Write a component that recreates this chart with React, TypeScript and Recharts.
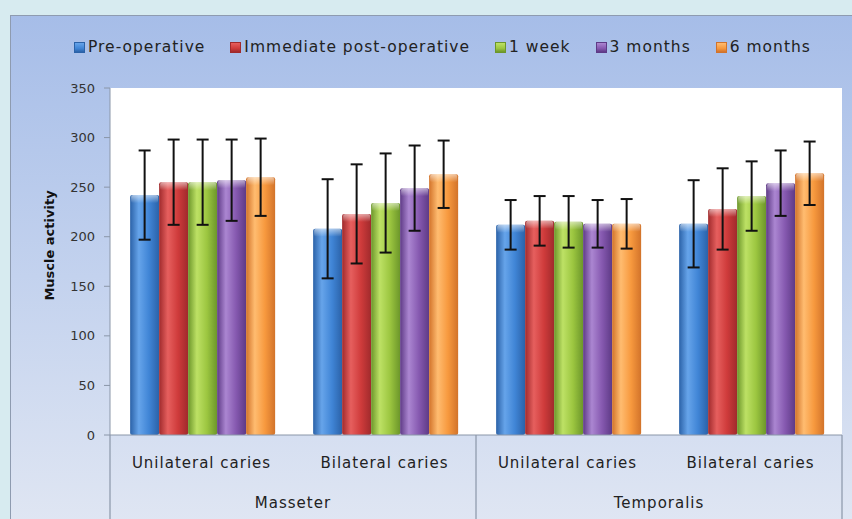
import React from 'react';
import { BarChart, Bar, XAxis, YAxis, CartesianGrid, ErrorBar, Legend } from 'recharts';

const categories = ['Unilateral caries', 'Bilateral caries', 'Unilateral caries', 'Bilateral caries'];
const groups = ['Masseter', 'Masseter', 'Temporalis', 'Temporalis'];

const preOperative = [242, 208, 212, 213];
const immediatePostOperative = [255, 223, 216, 228];
const oneWeek = [255, 234, 215, 241];
const threeMonths = [257, 249, 213, 254];
const sixMonths = [260, 263, 213, 264];

const preOperativeSd = [45, 50, 25, 44];
const immediatePostOperativeSd = [43, 50, 25, 41];
const oneWeekSd = [43, 50, 26, 35];
const threeMonthsSd = [41, 43, 24, 33];
const sixMonthsSd = [39, 34, 25, 32];

const yTicks = [0, 50, 100, 150, 200, 250, 300, 350];

const SERIES = [
  { key: 'pre', name: 'Pre-operative', values: preOperative, sd: preOperativeSd, dark: '#2b62a8', light: '#66a4ea', base: '#4085d6' },
  { key: 'post', name: 'Immediate post-operative', values: immediatePostOperative, sd: immediatePostOperativeSd, dark: '#a02a2c', light: '#e65f5e', base: '#cf3b3b' },
  { key: 'week', name: '1 week', values: oneWeek, sd: oneWeekSd, dark: '#6c962a', light: '#bde165', base: '#9cc640' },
  { key: 'm3', name: '3 months', values: threeMonths, sd: threeMonthsSd, dark: '#5e3a86', light: '#ab86d1', base: '#8659b0' },
  { key: 'm6', name: '6 months', values: sixMonths, sd: sixMonthsSd, dark: '#d2732a', light: '#ffbc70', base: '#f7993e' },
];

const data = categories.map((name, i) => {
  const row: any = { name, group: groups[i] };
  SERIES.forEach(s => {
    row[s.key] = s.values[i];
    row[s.key + 'Sd'] = s.sd[i];
  });
  return row;
});

const FONT = '"DejaVu Sans", Verdana, sans-serif';

const GlossyBar = (props: any) => {
  const { x, y, width, height, fill } = props;
  if (!height || height <= 0) return null;
  const cap = Math.min(8, height);
  return (
    <g>
      <rect x={x} y={y} width={width} height={height} fill={fill} rx={2} />
      <rect x={x + 1} y={y} width={width - 2} height={cap} fill="url(#capShine)" rx={2} />
    </g>
  );
};

const CategoryTick = (props: any) => {
  const { x, y, payload, index } = props;
  const half = payload && payload.offset ? payload.offset : 0;
  const axisHeight = props.height || 84;
  const group = groups[index];
  const firstOfGroup = index === 0 || groups[index - 1] !== group;
  const groupSize = groups.filter(g => g === group).length;
  const last = index === categories.length - 1;
  return (
    <g>
      <text x={x} y={y} dy={33} textAnchor="middle" fill="#222" fontSize={15} letterSpacing={1} fontFamily={FONT}>
        {payload.value}
      </text>
      {firstOfGroup && (
        <>
          <line x1={x - half} x2={x - half} y1={y} y2={y + axisHeight} stroke="#8a96a8" strokeWidth={1.2} />
          <text x={x - half + groupSize * half} y={y} dy={73} textAnchor="middle" fill="#222" fontSize={15} letterSpacing={1} fontFamily={FONT}>
            {group}
          </text>
        </>
      )}
      {last && <line x1={x + half} x2={x + half} y1={y} y2={y + axisHeight} stroke="#8a96a8" strokeWidth={1.2} />}
    </g>
  );
};

const YTitle = (props: any) => {
  const { viewBox } = props;
  const cx = viewBox.x - 1;
  const cy = viewBox.y + viewBox.height / 2 - 16;
  return (
    <text x={cx} y={cy} transform={`rotate(-90, ${cx}, ${cy})`} textAnchor="middle" dominantBaseline="central" fontSize={13} fontWeight="bold" fill="#111" fontFamily={FONT}>
      Muscle activity
    </text>
  );
};

const LegendContent = () => (
  <div style={{ display: 'flex', alignItems: 'center', gap: 25, paddingLeft: 74, height: 22, fontFamily: FONT, fontSize: 15.5, letterSpacing: 1, color: '#222' }}>
    {SERIES.map(s => (
      <span key={s.key} style={{ display: 'flex', alignItems: 'center' }}>
        <span style={{ width: 9, height: 9, marginRight: 3, background: `linear-gradient(180deg, ${s.light}, ${s.base} 60%, ${s.dark})`, border: `1px solid ${s.dark}` }} />
        {s.name}
      </span>
    ))}
  </div>
);

export default function App() {
  return (
    <div style={{ position: 'fixed', left: 0, top: 0, width: 852, height: 519, background: '#d7ebf0', overflow: 'hidden' }}>
      <div style={{ position: 'absolute', left: 10, top: 15, width: 860, height: 520, border: '1px solid #8e9bb0', background: 'linear-gradient(180deg, #a6bde8 0%, #c3d2ee 50%, #e1e7f3 100%)' }} />
      <div style={{ position: 'absolute', left: 0, top: 0 }}>
        <BarChart width={852} height={519} data={data} margin={{ top: 66, right: 10, bottom: 0, left: 50 }} barCategoryGap="11%" barGap={0} style={{ fontFamily: FONT }}>
          <defs>
            {SERIES.map(s => (
              <linearGradient key={s.key} id={`grad-${s.key}`} x1="0" y1="0" x2="1" y2="0">
                <stop offset="0%" stopColor={s.dark} />
                <stop offset="30%" stopColor={s.light} />
                <stop offset="65%" stopColor={s.base} />
                <stop offset="100%" stopColor={s.dark} />
              </linearGradient>
            ))}
            <linearGradient id="capShine" x1="0" y1="0" x2="0" y2="1">
              <stop offset="0%" stopColor="#ffffff" stopOpacity={0.55} />
              <stop offset="100%" stopColor="#ffffff" stopOpacity={0} />
            </linearGradient>
          </defs>
          <CartesianGrid fill="#ffffff" horizontal={false} vertical={false} />
          <Legend verticalAlign="top" content={<LegendContent />} wrapperStyle={{ top: 36, left: 0, width: 852 }} />
          <XAxis dataKey="name" height={84} tickLine={false} tickSize={0} tickMargin={0} axisLine={{ stroke: '#8a96a8' }} tick={<CategoryTick />} interval={0} />
          <YAxis
            width={60}
            domain={[0, 350]}
            ticks={yTicks}
            tickSize={6}
            tickMargin={9}
            axisLine={{ stroke: '#8a96a8' }}
            tickLine={{ stroke: '#8a96a8' }}
            tick={{ fontSize: 13, fill: '#333', fontFamily: FONT }}
            label={{ content: <YTitle /> }}
          />
          {SERIES.map(s => (
            <Bar key={s.key} dataKey={s.key} name={s.name} fill={`url(#grad-${s.key})`} shape={<GlossyBar />} isAnimationActive={false}>
              <ErrorBar dataKey={s.key + 'Sd'} width={6} strokeWidth={2} stroke="#111" direction="y" />
            </Bar>
          ))}
        </BarChart>
      </div>
    </div>
  );
}
